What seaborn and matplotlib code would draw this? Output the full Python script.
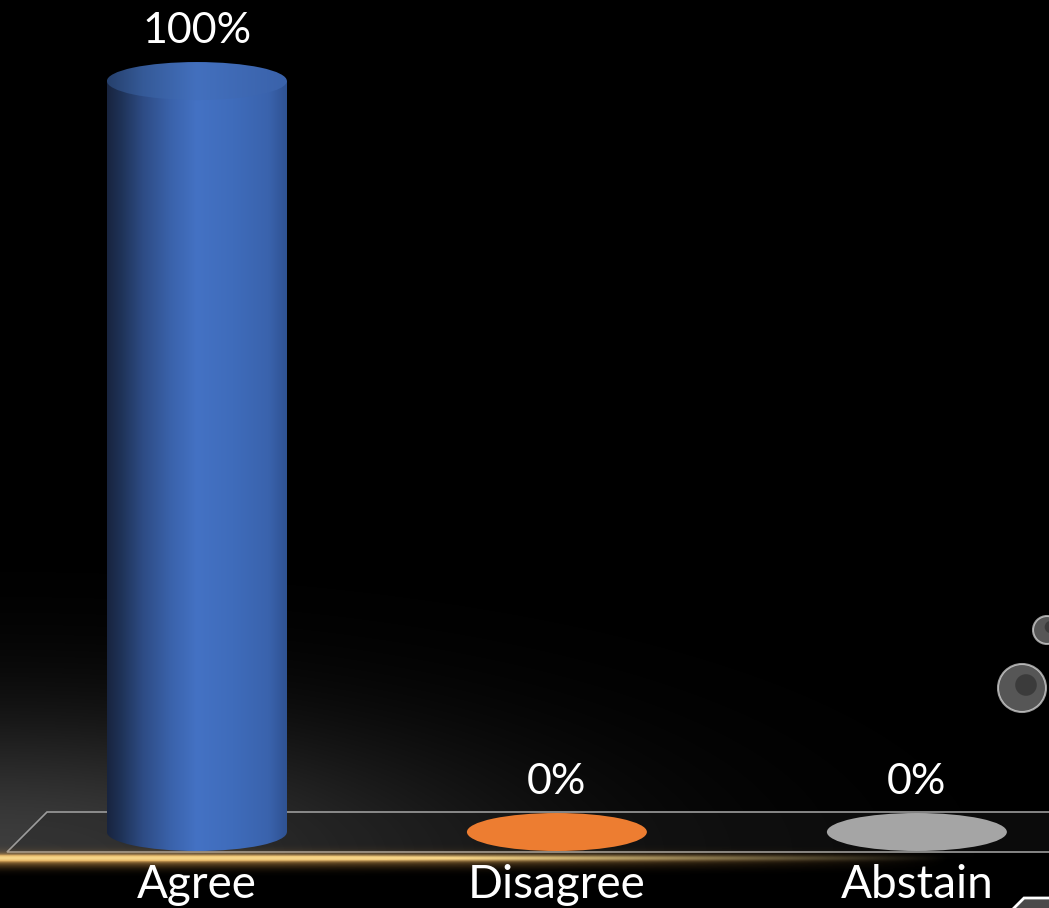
import numpy as np
import pandas as pd
import matplotlib
matplotlib.use("Agg")
import matplotlib.pyplot as plt
import seaborn as sns
from matplotlib.patches import Ellipse, Polygon, Rectangle, Circle
from matplotlib.colors import LinearSegmentedColormap

# ---------------- data ----------------
categories = ["Agree", "Disagree", "Abstain"]
values = [100, 0, 0]
value_labels = ["100%", "0%", "0%"]
bar_colors = ["#4472C4", "#ED7D31", "#A5A5A5"]

sns.set_theme(style="dark")
plt.rcParams['font.family'] = ['Lato', 'DejaVu Sans']

W, H = 1049, 908
fig = plt.figure(figsize=(W / 100, H / 100), dpi=100, facecolor='black')

# background decoration axes in pixel coordinates
axb = fig.add_axes([0, 0, 1, 1], zorder=0)
axb.set_xlim(0, W)
axb.set_ylim(H, 0)
axb.axis('off')

xx, yy = np.meshgrid(np.arange(W) + 0.5, np.arange(H) + 0.5)
# grey haze bottom-left
haze = 0.24 * np.exp(-((xx / 480.0) ** 2 + ((856 - yy) / 140.0) ** 2))
haze = np.where(yy > 856, haze * np.exp(-((yy - 856) / 6.0) ** 2), haze)
img = np.dstack([haze, haze, haze, np.ones_like(haze)])
axb.imshow(img, extent=[0, W, H, 0], aspect='auto', zorder=0, interpolation='bilinear')

# floor
floor = Polygon([(47, 812), (1100, 812), (1100, 852), (7, 852)], closed=True,
                facecolor=(0.13, 0.13, 0.13, 0.35), edgecolor='#9c9c9c', lw=1.2, zorder=2)
axb.add_patch(floor)

# gold line with warm halo
fade = np.clip(1 - (xx / 950.0) ** 1.5, 0, 1)
core = np.exp(-((yy - 858) / 3.2) ** 2)
halo = 0.55 * np.exp(-((yy - 860) / 8.0) ** 2)
alpha = np.clip(fade * (core + halo), 0, 1)
gold = np.zeros((H, W, 4))
gold[..., 0] = 0.82 + 0.15 * core
gold[..., 1] = 0.58 + 0.26 * core
gold[..., 2] = 0.26 + 0.28 * core
gold[..., 3] = alpha
axb.imshow(gold, extent=[0, W, H, 0], aspect='auto', zorder=3, interpolation='bilinear')

# bottom-right decorative shape
axb.add_patch(Polygon([(1012, 910), (1024, 898), (1052, 898), (1052, 910)], closed=True,
                      facecolor='#4a4a4a', edgecolor='white', lw=2, zorder=4))
# textured bubbles on the right
for (cx, cy, r) in [(1022, 688, 24), (1047, 630, 14)]:
    axb.add_patch(Circle((cx, cy), r, facecolor=(0.62, 0.62, 0.62, 0.55),
                         edgecolor=(1, 1, 1, 0.6), lw=1.5, zorder=4))
    axb.add_patch(Circle((cx + 4, cy - 3), r * 0.45, facecolor=(0.15, 0.15, 0.15, 0.55),
                         edgecolor='none', zorder=5))

# ---------------- chart ----------------
ax = fig.add_axes([0, 0, 1, 1], zorder=1)
ax.patch.set_alpha(0)
df = pd.DataFrame({"category": categories, "value": values})
sns.barplot(data=df, x="category", y="value", hue="category", palette=bar_colors,
            width=0.5, legend=False, saturation=1, ax=ax)
ax.set_xlim(-0.547, 2.367)
ax.set_ylim(-10.12, 110.79)
ax.axis('off')

ell_h = 5.06
blue_cmap = LinearSegmentedColormap.from_list("cyl", [
    (0.0, "#18243f"), (0.08, "#1f3358"), (0.2, "#2e4c85"), (0.35, "#3a62aa"),
    (0.5, "#4472c4"), (0.7, "#3f6cbb"), (0.9, "#3a63ad"), (1.0, "#2f5292")])
top_cmap = LinearSegmentedColormap.from_list("cyltop", [
    (0.0, "#26406c"), (0.2, "#355a98"), (0.5, "#4370be"), (1.0, "#3a62aa")])
grad = np.linspace(0, 1, 256).reshape(1, -1)

for patch in list(ax.patches):
    x0 = patch.get_x()
    w = patch.get_width()
    h = patch.get_height()
    fc = patch.get_facecolor()
    cx = x0 + w / 2
    patch.set_visible(False)
    if h > 0:
        body = Rectangle((x0, 0), w, h, transform=ax.transData)
        im = ax.imshow(grad, cmap=blue_cmap, extent=[x0, x0 + w, -ell_h, h],
                       aspect='auto', zorder=3, interpolation='bilinear')
        im.set_clip_path(body)
        bot = Ellipse((cx, 0), w, ell_h, transform=ax.transData)
        im2 = ax.imshow(grad, cmap=blue_cmap, extent=[x0, x0 + w, -ell_h, h],
                        aspect='auto', zorder=3, interpolation='bilinear')
        im2.set_clip_path(bot)
        top = Ellipse((cx, h), w, ell_h, transform=ax.transData)
        im3 = ax.imshow(grad, cmap=top_cmap, extent=[x0, x0 + w, h - ell_h, h + ell_h],
                        aspect='auto', zorder=4, interpolation='bilinear')
        im3.set_clip_path(top)
    else:
        ax.add_patch(Ellipse((cx, 0), w, ell_h, facecolor=fc, edgecolor='none', zorder=3))

for i, (cat, v, lab) in enumerate(zip(categories, values, value_labels)):
    ax.text(i, v + 5.1, lab, ha='center', va='baseline', color='white', fontsize=31, zorder=5)
    ax.text(i, -8.8, cat, ha='center', va='baseline', color='white', fontsize=33, zorder=5)

fig.savefig("out.png", dpi=100, facecolor='black')
